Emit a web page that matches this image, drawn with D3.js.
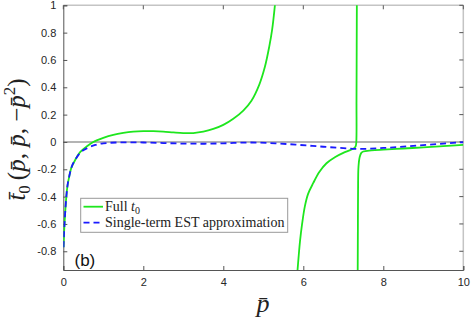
<!DOCTYPE html>
<html><head><meta charset="utf-8">
<script src="https://cdn.jsdelivr.net/npm/d3@7"></script>
<style>body{margin:0;background:#fff}svg{display:block}</style>
</head><body><svg id="c" width="471" height="320"></svg>
<script>
// ---- data ----
const xTicks = [0, 2, 4, 6, 8, 10];
const yTicks = [-0.8, -0.6, -0.4, -0.2, 0, 0.2, 0.4, 0.6, 0.8, 1];
const yTickLabels = ["-0.8", "-0.6", "-0.4", "-0.2", "0", "0.2", "0.4", "0.6", "0.8", "1"];
const seriesNames = ["Full t0", "Single-term EST approximation"];
// Full t0 (three branches separated by poles)
const fullBranch1 = [[0.005,-0.77],[0.02,-0.66],[0.04,-0.55],[0.07,-0.42],[0.1,-0.33],[0.15,-0.25],[0.2,-0.19],[0.3,-0.13],[0.42,-0.075],[0.6,-0.03],[0.75,0],[1.0,0.03],[1.25,0.052],[1.5,0.066],[1.75,0.075],[2.0,0.079],[2.25,0.079],[2.5,0.076],[2.75,0.07],[3.0,0.065],[3.25,0.065],[3.5,0.075],[3.75,0.095],[4.0,0.125],[4.25,0.17],[4.5,0.23],[4.7,0.30],[4.9,0.42],[5.04,0.55],[5.15,0.70],[5.22,0.82],[5.29,1.0],[5.32,1.1]];
const fullBranch2 = [[5.85,-0.96],[5.88,-0.85],[5.92,-0.72],[5.97,-0.6],[6.04,-0.47],[6.12,-0.38],[6.25,-0.3],[6.4,-0.22],[6.58,-0.156],[6.8,-0.11],[7.0,-0.08],[7.17,-0.06],[7.27,-0.045],[7.31,-0.03],[7.325,0],[7.33,0.3],[7.335,0.7],[7.34,1.1]];
const fullBranch3 = [[7.36,-0.96],[7.365,-0.6],[7.37,-0.3],[7.38,-0.18],[7.41,-0.11],[7.45,-0.08],[7.5,-0.07],[7.7,-0.062],[8,-0.056],[8.5,-0.048],[9,-0.04],[9.5,-0.031],[10,-0.022]];
const approx = [[0.005,-0.77],[0.02,-0.66],[0.04,-0.55],[0.07,-0.42],[0.1,-0.33],[0.15,-0.25],[0.2,-0.19],[0.3,-0.13],[0.42,-0.08],[0.6,-0.045],[0.8,-0.022],[1.0,-0.01],[1.5,-0.003],[2,-0.004],[2.5,-0.008],[3,-0.012],[3.5,-0.013],[4,-0.01],[4.67,-0.004],[5.3,-0.01],[5.92,-0.022],[6.5,-0.035],[7,-0.045],[7.42,-0.051],[8,-0.044],[8.83,-0.027],[9.5,-0.012],[10,-0.002]];

// ---- layout ----
const svg = d3.select("#c");
const L = 63.3, R = 463.3, T = 5.3, B = 270;
const x = d3.scaleLinear().domain([0, 10]).range([L, R]);
const y = d3.scaleLinear().domain([-0.937, 1]).range([B, T]);
const axisCol = "#555", tickFont = "'Liberation Sans', Arial, sans-serif";

svg.append("defs").append("clipPath").attr("id","clip")
  .append("rect").attr("x",L).attr("y",T).attr("width",R-L).attr("height",B-T);

// zero line
svg.append("line").attr("x1",L).attr("x2",R).attr("y1",y(0)).attr("y2",y(0))
  .attr("stroke","#b4b4b4").attr("stroke-width",2);

// box top/right
svg.append("line").attr("x1",L).attr("x2",R).attr("y1",T).attr("y2",T).attr("stroke","#c4c4c4").attr("stroke-width",1.5);
svg.append("line").attr("x1",R).attr("x2",R).attr("y1",T).attr("y2",B).attr("stroke","#c4c4c4").attr("stroke-width",1.5);

// axes
const xAxis = svg.append("g").attr("transform",`translate(0,${B})`)
  .call(d3.axisBottom(x).tickValues(xTicks).tickSize(-4).tickPadding(8).tickFormat(d3.format("d")));
const yAxis = svg.append("g").attr("transform",`translate(${L},0)`)
  .call(d3.axisLeft(y).tickValues(yTicks).tickSize(-4).tickPadding(7).tickFormat((d,i)=>yTickLabels[i]));
[xAxis,yAxis].forEach(g=>{
  g.select(".domain").attr("stroke",axisCol).attr("stroke-width",1);
  g.selectAll(".tick line").attr("stroke",axisCol);
  g.selectAll("text").attr("fill","#262626").style("font-family",tickFont).style("font-size","11px");
});
// top & right ticks
svg.append("g").selectAll("line").data(xTicks).join("line")
  .attr("x1",d=>x(d)).attr("x2",d=>x(d)).attr("y1",T).attr("y2",T+4).attr("stroke",axisCol);
svg.append("g").selectAll("line").data(yTicks).join("line")
  .attr("x1",R-4).attr("x2",R).attr("y1",d=>y(d)).attr("y2",d=>y(d)).attr("stroke",axisCol);

// curves
const line = d3.line().x(d=>x(d[0])).y(d=>y(d[1])).curve(d3.curveMonotoneX);
const plot = svg.append("g").attr("clip-path","url(#clip)");
[fullBranch1, fullBranch2, fullBranch3].forEach(b=>{
  plot.append("path").attr("d", d3.line().x(d=>x(d[0])).y(d=>y(d[1])).curve(d3.curveCatmullRom)(b))
    .attr("fill","none").attr("stroke","#1ee61e").attr("stroke-width",1.8);
});
plot.append("path").attr("d", line(approx)).attr("fill","none")
  .attr("stroke","#1a1aff").attr("stroke-width",1.8).attr("stroke-dasharray","6,4");

// legend
const serif = "'Liberation Serif','Times New Roman','DejaVu Serif',serif";
const lg = svg.append("g");
lg.append("rect").attr("x",80.7).attr("y",198.3).attr("width",207).attr("height",34)
  .attr("fill","#fff").attr("stroke","#999").attr("stroke-width",1);
lg.append("line").attr("x1",83.5).attr("x2",103).attr("y1",206.7).attr("y2",206.7).attr("stroke","#1ee61e").attr("stroke-width",1.8);
lg.append("line").attr("x1",83.5).attr("x2",103).attr("y1",222.7).attr("y2",222.7).attr("stroke","#1a1aff").attr("stroke-width",1.8).attr("stroke-dasharray","6,4");
const t1 = lg.append("text").attr("x",105).attr("y",211.3).attr("font-family",serif).attr("font-size",14).attr("fill","#222");
t1.append("tspan").attr("font-style","italic").text("t");
t1.node().insertBefore(document.createTextNode("Full "), t1.node().firstChild);
t1.append("tspan").attr("dy",3).attr("font-size",10).text("0");
lg.append("text").attr("x",105).attr("y",227.3).attr("font-family",serif).attr("font-size",14).attr("fill","#222")
  .text(seriesNames[1]);

// (b)
svg.append("text").attr("x",74.5).attr("y",266).attr("font-family",tickFont).attr("font-size",17).attr("fill","#111").text("(b)");

// x title
svg.append("text").attr("x",263).attr("y",312).attr("text-anchor","middle")
  .attr("font-family",serif).attr("font-style","italic").attr("font-size",26).attr("fill","#222").text("p\u0304");

// y title
const yt = svg.append("text").attr("transform","translate(25,139.5) rotate(-90)").attr("text-anchor","middle")
  .attr("font-family",serif).attr("font-size",25).attr("fill","#222");
yt.append("tspan").attr("font-style","italic").text("t\u0304");
yt.append("tspan").attr("dy",5).attr("font-size",17).text("0");
yt.append("tspan").attr("dy",-5).text("\u2009(");
yt.append("tspan").attr("font-style","italic").text("p\u0304");
yt.append("tspan").text(", ");
yt.append("tspan").attr("font-style","italic").text("p\u0304");
yt.append("tspan").text(", \u2212");
yt.append("tspan").attr("font-style","italic").text("p\u0304");
yt.append("tspan").attr("dy",-10).attr("font-size",17).text("2");
yt.append("tspan").attr("dy",10).text(")");
</script></body></html>
